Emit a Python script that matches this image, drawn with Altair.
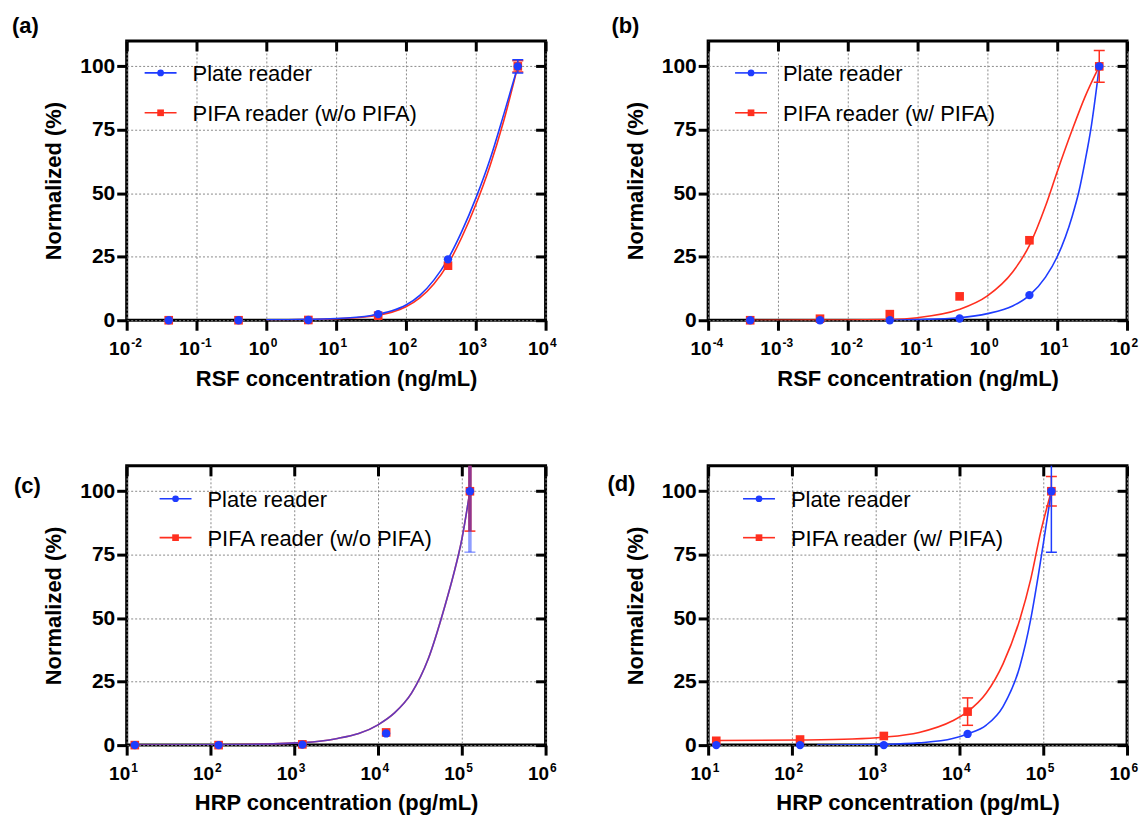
import math
import altair as alt
import pandas as pd

FONT = "Liberation Sans"
BLUE = "#1f3cff"
RED = "#ff2f1f"
GRID = "#8a8a8a"

PLATE = "Plate reader"
PIFA_WO = "PIFA reader (w/o PIFA)"
PIFA_W = "PIFA reader (w/ PIFA)"
PANEL_TAGS = ["(a)", "(b)", "(c)", "(d)"]
Y_TITLE = "Normalized (%)"
Y_TICKS = [0, 25, 50, 75, 100]
RSF_TITLE = "RSF concentration (ng/mL)"
HRP_TITLE = "HRP concentration (pg/mL)"
TICK_BASE = "10"

# ---------------- panel (a) ----------------
A_X = [0.04, 0.4, 4, 40, 400, 4000]
A_PLATE = [0, 0, 0.1, 2.4, 24, 100]
A_PIFA = [0, 0, 0.1, 1.8, 21.5, 100]
A_PLATE_ERR = [0, 0, 0, 0, 0, 2.6]
A_PIFA_ERR = [0, 0, 0, 0, 0, 2.2]
A_FIT_X = [1, 10, 32, 63, 100, 158, 251, 398, 631, 1000, 1585, 2512, 4000]
A_FIT_PLATE = [0.15, 0.7, 1.9, 3.7, 6.0, 9.8, 15.8, 24, 35, 48, 63, 81, 100]
A_FIT_PIFA = [0.12, 0.6, 1.6, 3.2, 5.3, 8.8, 14.3, 22, 32.7, 45.5, 60.5, 78.5, 100]
A_TICKS = [0.01, 0.1, 1, 10, 100, 1000, 10000]
A_TICK_EXP = ["-2", "-1", "0", "1", "2", "3", "4"]

# ---------------- panel (b) ----------------
B_X = [0.0004, 0.004, 0.04, 0.4, 4, 40]
B_PLATE = [0, 0, 0, 0.7, 9.9, 100]
B_PIFA = [0, 0.6, 2.4, 9.4, 31.5, 100]
B_PLATE_ERR = [0, 0, 0, 0, 0, 0]
B_PIFA_ERR = [0, 0, 0, 0, 0, 6.3]
B_FIT_PLATE_X = [0.04, 0.1, 0.39, 1, 2.3, 4, 6.8, 10, 16.4, 20.4, 25, 31, 37, 40]
B_FIT_PLATE = [0, 0.25, 1.0, 2.6, 5.6, 9.8, 17, 25, 41, 50.6, 62.5, 77, 92.5, 100]
B_FIT_PIFA_X = [0.0004, 0.004, 0.04, 0.1, 0.39, 1, 2.3, 4, 6.8, 10, 16.4, 25, 40]
B_FIT_PIFA = [0, 0.05, 0.3, 1.0, 4.2, 9.6, 19, 29.5, 45, 58.5, 75, 88, 100]
B_TICKS = [0.0001, 0.001, 0.01, 0.1, 1, 10, 100]
B_TICK_EXP = ["-4", "-3", "-2", "-1", "0", "1", "2"]

# ---------------- panel (c) ----------------
C_X = [12.5, 125, 1250, 12500, 125000]
C_PLATE = [0, 0, 0.2, 4.6, 100]
C_PIFA = [0, 0, 0.3, 5.0, 100]
C_PLATE_ERR = [0, 0, 0, 0, 24]
C_PIFA_ERR = [0, 0, 0, 0, 15.7]
C_FIT_X = [12.5, 125, 1259, 3162, 10000, 15849, 25119, 39811, 63096, 79433, 100000, 125000]
C_FIT_PLATE = [0, 0.1, 1.0, 2.5, 8.0, 12.8, 20.5, 34, 55, 67, 81, 100]
C_FIT_PIFA = [0, 0.1, 1.0, 2.5, 8.0, 12.8, 20.5, 34, 55, 67, 81, 100]
HRP_TICKS = [10, 100, 1000, 10000, 100000, 1000000]
HRP_TICK_EXP = ["1", "2", "3", "4", "5", "6"]

# ---------------- panel (d) ----------------
D_X = [12.5, 125, 1250, 12500, 125000]
D_PLATE = [0, 0, 0, 4.4, 100]
D_PIFA = [1.7, 2.2, 3.6, 13.2, 100]
D_PLATE_ERR = [0, 0, 0, 0, 24]
D_PIFA_ERR = [0, 0, 0, 5.4, 5.8]
D_FIT_PLATE_X = [200, 1225, 3300, 8300, 12500, 20900, 33100, 52500, 70800, 87000, 102000, 125000]
D_FIT_PLATE = [0, 0.3, 0.9, 2.6, 4.4, 7.9, 15.2, 31, 49.5, 66.6, 81, 100]
D_FIT_PIFA_X = [12.5, 125, 525, 1225, 3300, 8300, 12300, 20900, 33100, 52500, 70800, 93300, 125000]
D_FIT_PIFA = [1.8, 2.0, 2.4, 3.1, 5.0, 9.6, 13, 20.5, 32, 49.5, 65.3, 84, 100]

W, H = 420, 280
XLABEL_SIZE = 19
YLABEL_SIZE = 21
EXP_SIZE = 12


def exp_expr(ticks, exps):
    e0 = round(math.log10(ticks[0]))
    arr = "[" + ",".join("'" + s + "'" for s in exps) + "]"
    return arr + "[round(log(datum.value)/LN10)-(" + str(e0) + ")]"


def panel(xs, plate, pifa, plate_err, pifa_err, fit_plate_x, fit_plate, fit_pifa_x, fit_pifa,
          ticks, tick_exps, x_title, pifa_name, tag, tag_pos, leg_dx, leg_rows,
          blue_line_opacity=1.0, err_width=1.5, blue_err_opacity=1.0):
    xscale = alt.Scale(type="log", domain=[ticks[0], ticks[-1]], nice=False)
    yscale = alt.Scale(domain=[0, 110], nice=False, zero=False)

    ax_bottom = alt.Axis(values=ticks, labelExpr="'" + TICK_BASE + "'", title=x_title,
                         grid=True, gridColor=GRID, gridDash=[2, 2], gridWidth=1, domain=False,
                         tickSize=10, tickWidth=3, tickColor="black",
                         labelFont=FONT, labelFontSize=XLABEL_SIZE, labelFontWeight="bold", labelColor="black",
                         labelPadding=9, labelFlush=False, labelOverlap=False, labelAlign="right", labelOffset=3,
                         titleFont=FONT, titleFontSize=22, titleFontWeight="bold", titleColor="black",
                         titlePadding=10, offset=0)
    ax_exp = alt.Axis(orient="bottom", values=ticks, labelExpr=exp_expr(ticks, tick_exps), title=None,
                      grid=False, domain=False, tickSize=10, tickOpacity=0,
                      labelFont=FONT, labelFontSize=EXP_SIZE, labelFontWeight="bold", labelColor="black",
                      labelPadding=7, labelFlush=False, labelOverlap=False, labelAlign="left", labelOffset=4,
                      offset=0)
    ax_left = alt.Axis(values=Y_TICKS, title=Y_TITLE,
                       grid=True, gridColor=GRID, gridDash=[2, 2], gridWidth=1, domain=False,
                       tickSize=10, tickWidth=3, tickColor="black",
                       labelFont=FONT, labelFontSize=YLABEL_SIZE, labelFontWeight="bold", labelColor="black",
                       labelPadding=2, labelFlush=False, labelOverlap=False,
                       titleFont=FONT, titleFontSize=22, titleFontWeight="bold", titleColor="black",
                       titlePadding=14)
    ax_top = alt.Axis(orient="top", values=ticks, labels=False, grid=False, domain=False,
                      tickSize=10, tickWidth=3, tickColor="black", offset=-10, title=None)
    ax_right = alt.Axis(orient="right", values=Y_TICKS, labels=False, grid=False, domain=False,
                        tickSize=10, tickWidth=3, tickColor="black", offset=-10, title=None)

    def X(field="x", axis=None):
        return alt.X(field, type="quantitative", scale=xscale, axis=axis)

    def Y(field="y", axis=None):
        return alt.Y(field, type="quantitative", scale=yscale, axis=axis)

    pts_all = pd.DataFrame({"x": xs + xs, "y": plate + pifa})
    layers = []
    layers.append(alt.Chart(pts_all).mark_point(opacity=0).encode(x=X(axis=ax_bottom), y=Y(axis=ax_left)))
    layers.append(alt.Chart(pts_all).mark_point(opacity=0).encode(x=X(axis=ax_top), y=Y(axis=ax_right)))
    layers.append(alt.Chart(pts_all).mark_point(opacity=0).encode(x=X(axis=ax_exp), y=Y()))

    # fitted curves (red under blue)
    layers.append(alt.Chart(pd.DataFrame({"x": fit_pifa_x, "y": fit_pifa}))
                  .mark_line(color=RED, strokeWidth=1.6, interpolate="monotone", clip=True)
                  .encode(x=X(), y=Y()))
    layers.append(alt.Chart(pd.DataFrame({"x": fit_plate_x, "y": fit_plate}))
                  .mark_line(color=BLUE, strokeWidth=1.6, interpolate="monotone", clip=True,
                             opacity=blue_line_opacity)
                  .encode(x=X(), y=Y()))

    # error bars
    for vals, errs, color, opac in [(pifa, pifa_err, RED, 1.0), (plate, plate_err, BLUE, blue_err_opacity)]:
        rows = [(x, v - e, v + e) for x, v, e in zip(xs, vals, errs) if e > 0]
        if not rows:
            continue
        edf = pd.DataFrame(rows, columns=["x", "lo", "hi"])
        layers.append(alt.Chart(edf).mark_rule(color=color, strokeWidth=err_width, clip=True, opacity=opac)
                      .encode(x=X(), y=Y("lo"), y2="hi"))
        for f in ["lo", "hi"]:
            layers.append(alt.Chart(edf).mark_tick(color=color, orient="horizontal", size=11, thickness=1.5,
                                                   clip=True, opacity=opac)
                          .encode(x=X(), y=Y(f)))

    # points (red squares under blue circles)
    layers.append(alt.Chart(pd.DataFrame({"x": xs, "y": pifa}))
                  .mark_point(filled=True, shape="square", size=75, color=RED, opacity=1)
                  .encode(x=X(), y=Y()))
    layers.append(alt.Chart(pd.DataFrame({"x": xs, "y": plate}))
                  .mark_point(filled=True, shape="circle", size=70, color=BLUE, opacity=1)
                  .encode(x=X(), y=Y()))

    # legend
    for (name, color, shape), yr in zip([(PLATE, BLUE, "circle"), (pifa_name, RED, "square")], leg_rows):
        ldf = pd.DataFrame({"label": [name]})
        layers.append(alt.Chart(ldf).mark_rule(color=color, strokeWidth=1.6)
                      .encode(x=alt.value(18 + leg_dx), x2=alt.value(50 + leg_dx), y=alt.value(yr)))
        layers.append(alt.Chart(ldf).mark_point(filled=True, shape=shape, size=45, color=color, opacity=1)
                      .encode(x=alt.value(34 + leg_dx), y=alt.value(yr)))
        layers.append(alt.Chart(ldf).mark_text(align="left", baseline="alphabetic", font=FONT, fontSize=22,
                                               color="black")
                      .encode(x=alt.value(66 + leg_dx), y=alt.value(yr + 8), text="label:N"))

    # panel tag
    layers.append(alt.Chart(pd.DataFrame({"t": [tag]}))
                  .mark_text(align="left", baseline="alphabetic", font=FONT, fontSize=22, fontWeight="bold",
                             color="black")
                  .encode(x=alt.value(tag_pos[0]), y=alt.value(tag_pos[1]), text="t:N"))

    return alt.layer(*layers).resolve_axis(x="independent", y="independent").properties(width=W, height=H)


pa = panel(A_X, A_PLATE, A_PIFA, A_PLATE_ERR, A_PIFA_ERR, A_FIT_X, A_FIT_PLATE, A_FIT_X, A_FIT_PIFA,
           A_TICKS, A_TICK_EXP, RSF_TITLE, PIFA_WO, PANEL_TAGS[0], (-115, -8), 0, (32, 72))
pb = panel(B_X, B_PLATE, B_PIFA, B_PLATE_ERR, B_PIFA_ERR, B_FIT_PLATE_X, B_FIT_PLATE, B_FIT_PIFA_X, B_FIT_PIFA,
           B_TICKS, B_TICK_EXP, RSF_TITLE, PIFA_W, PANEL_TAGS[1], (-97, -8), 9, (32, 72))
pc = panel(C_X, C_PLATE, C_PIFA, C_PLATE_ERR, C_PIFA_ERR, C_FIT_X, C_FIT_PLATE, C_FIT_X, C_FIT_PIFA,
           HRP_TICKS, HRP_TICK_EXP, HRP_TITLE, PIFA_WO, PANEL_TAGS[2], (-113, 27), 15, (33, 72),
           blue_line_opacity=0.7, err_width=3.5, blue_err_opacity=0.5)
pd_ = panel(D_X, D_PLATE, D_PIFA, D_PLATE_ERR, D_PIFA_ERR, D_FIT_PLATE_X, D_FIT_PLATE, D_FIT_PIFA_X, D_FIT_PIFA,
            HRP_TICKS, HRP_TICK_EXP, HRP_TITLE, PIFA_W, PANEL_TAGS[3], (-101, 25), 17, (33, 72))

chart = (
    alt.concat(pa, pb, pc, pd_, columns=2, spacing={"row": 146, "column": 163}, bounds="flush")
    .properties(padding={"left": 2, "top": 4, "right": 0, "bottom": 0})
    .configure_view(stroke="black", strokeWidth=3)
)

chart.save("out.html", embed_options={"renderer": "svg", "actions": False})
